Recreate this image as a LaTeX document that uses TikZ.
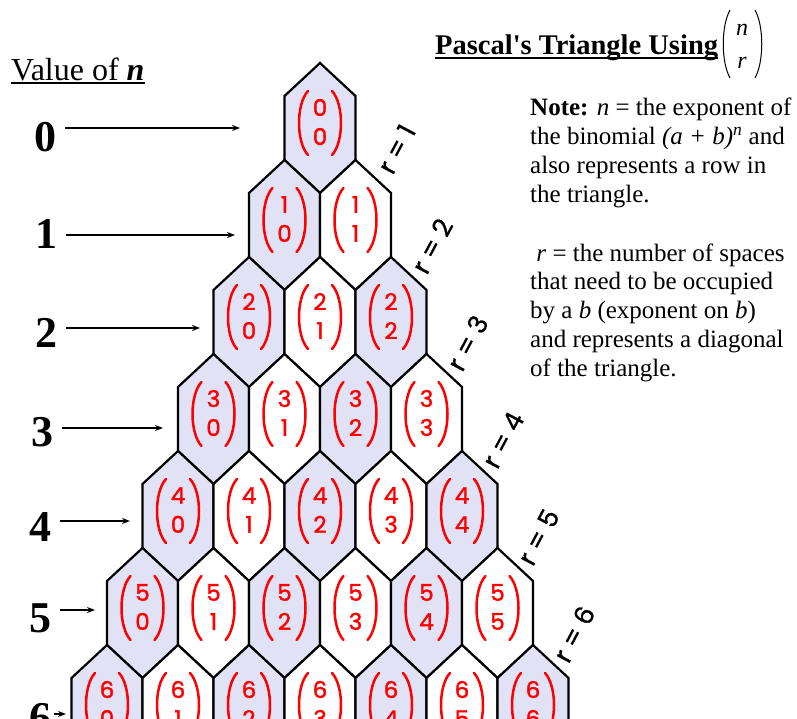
\documentclass[tikz,border=0pt]{standalone}
\usepackage{fontspec}
\setmainfont{Liberation Serif}
\newfontfamily\handfont[FakeBold=1.6]{Poppins}
\newfontfamily\diagfont[FakeBold=0.8]{Poppins}
\usetikzlibrary{arrows.meta, calc}

\definecolor{cellfill}{RGB}{226,226,246}
\definecolor{inkred}{RGB}{255,0,0}

\begin{document}
\begin{tikzpicture}[x=1pt, y=-1pt,
    cell/.style={draw=black, line width=2.2pt, line join=miter},
    entry/.style={text=inkred, font=\handfont\fontsize{23}{29}\selectfont, align=center, inner sep=0pt},
    paren/.style={draw=inkred, line width=2.5pt, line cap=round},
    rowno/.style={font=\bfseries\fontsize{44}{44}\selectfont, inner sep=0pt},
    rowarrow/.style={-{Stealth[length=8pt, width=6pt]}, line width=1.5pt, shorten <=9pt},
    diag/.style={font=\diagfont\fontsize{26}{26}\selectfont, rotate=62, inner sep=0pt},
    note/.style={font=\fontsize{25}{28.8}\selectfont, align=left, inner sep=0pt, anchor=north west}]
  \useasboundingbox (0,0) rectangle (797,719);
  \clip (0,0) rectangle (797,719);

  % headings
  \node[anchor=base west, inner sep=0pt, font=\fontsize{32}{32}\selectfont] (valuehead) at (11,81) {Value of \textbf{\textit{n}}};
  \draw[line width=1.2pt] ([yshift=-2pt]valuehead.base west) -- ([yshift=-2pt]valuehead.base east);
  \node[anchor=base west, inner sep=0pt, font=\bfseries\fontsize{28.5}{30}\selectfont] (title) at (435,55) {Pascal\textquotesingle s Triangle Using};
  \draw[line width=1.2pt] ([yshift=-3pt]title.base west) -- ([yshift=-3pt]title.base east);
  \node[align=center, inner sep=0pt, font=\fontsize{24}{33}\selectfont] (nr) at (742,46) {\textit{n}\\\textit{r}};
  \draw[line width=1pt] ($(nr.center)+(-12,-36)$) .. controls +(-9,16) and +(-9,-16) .. ($(nr.center)+(-12,32)$);
  \draw[line width=1pt] ($(nr.center)+(13,-36)$) .. controls +(9,16) and +(9,-16) .. ($(nr.center)+(13,32)$);

  % hexagon cells, even r shaded
  \foreach \n in {0,...,6}{
    \foreach \k in {0,...,\n}{
      \pgfmathsetmacro{\cx}{320+(\k-\n/2)*71}
      \pgfmathsetmacro{\ty}{63+97*\n}
      \pgfmathtruncatemacro{\tint}{100*(1-mod(\k,2))}
      \draw[cell, fill=cellfill!\tint!white] (\cx,\ty) -- ++(35.5,33) -- ++(0,64) -- ++(-35.5,33) -- ++(-35.5,-33) -- ++(0,-64) -- cycle;
      \node[entry] (h\n\k) at (\cx,\ty+59) {\n\\\k};
      \draw[paren] ($(h\n\k.center)+(-12,-31)$) .. controls +(-12,13) and +(-12,-13) .. ($(h\n\k.center)+(-12,33)$);
      \draw[paren] ($(h\n\k.center)+(12,-31)$) .. controls +(12,13) and +(12,-13) .. ($(h\n\k.center)+(12,33)$);
    }
  }

  % diagonals
  \foreach \k in {1,...,6}
    \node[diag] (r\k) at ({320+\k*35.5+41}, {63+97*\k-11}) {r = \k};

  % row numbers
  \node[rowno] (num0) at (45,137) {0};
  \node[rowno] (num1) at (46,234) {1};
  \node[rowno] (num2) at (46,333) {2};
  \node[rowno] (num3) at (42,432) {3};
  \node[rowno] (num4) at (40,527) {4};
  \node[rowno] (num5) at (40,618) {5};
  \node[rowno] (num6) at (40,718) {6};
  \coordinate (tip0) at (240,128);
  \coordinate (tip1) at (235,235);
  \coordinate (tip2) at (200,328);
  \coordinate (tip3) at (163,428);
  \coordinate (tip4) at (130,521);
  \coordinate (tip5) at (95,610);
  \coordinate (tip6) at (66,714);
  \draw[rowarrow] (num0.east |- tip0) -- (tip0);
  \draw[rowarrow] (num1.east |- tip1) -- (tip1);
  \draw[rowarrow] (num2.east |- tip2) -- (tip2);
  \draw[rowarrow] (num3.east |- tip3) -- (tip3);
  \draw[rowarrow] (num4.east |- tip4) -- (tip4);
  \draw[rowarrow] (num5.east |- tip5) -- (tip5);
  \draw[rowarrow, shorten <=3pt] (num6.east |- tip6) -- (tip6);

  % note
  \node[note] (note) at (530,98) {\textbf{Note:} \textit{n} = the exponent of\\
    the binomial \textit{(a + b)}\textsuperscript{\textit{n}} and\\
    also represents a row in\\
    the triangle.\\[30pt]
    \ \textit{r} = the number of spaces\\
    that need to be occupied\\
    by a \textit{b} (exponent on \textit{b})\\
    and represents a diagonal\\
    of the triangle.};
\end{tikzpicture}
\end{document}
